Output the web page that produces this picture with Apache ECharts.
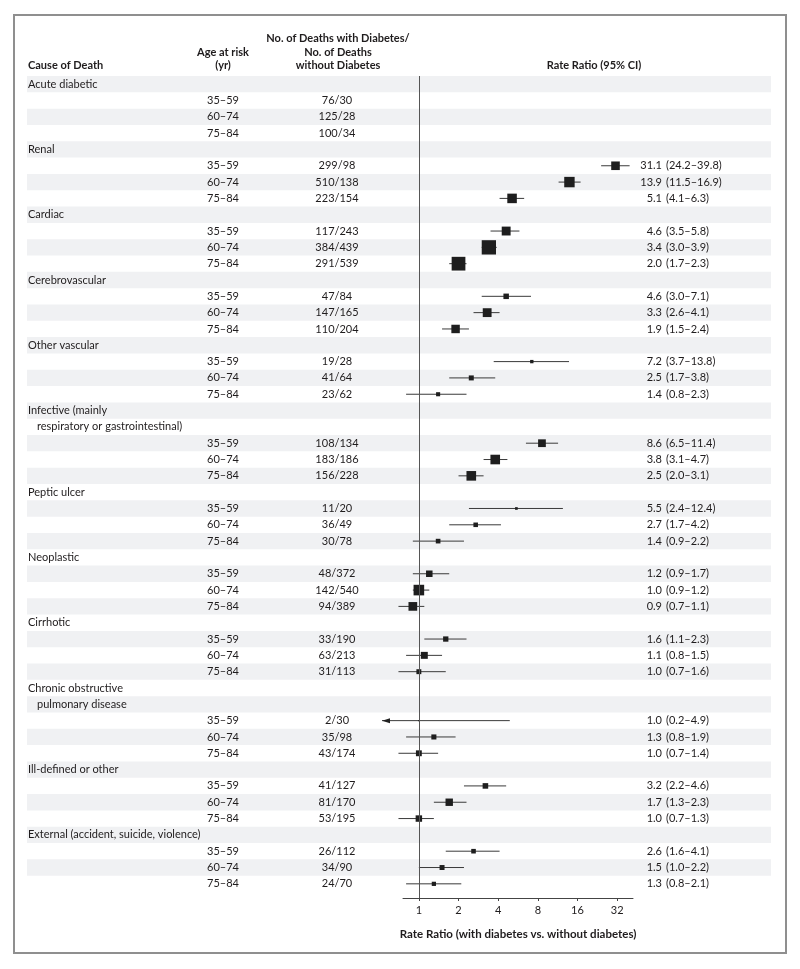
<!DOCTYPE html>
<html>
<head>
<meta charset="utf-8">
<title>Rate ratio by cause of death</title>
<script src="https://cdn.jsdelivr.net/npm/echarts@6/dist/echarts.min.js"></script>
<style>
  html, body { margin: 0; padding: 0; background: #fff; }
  #chart { width: 800px; height: 969px; }
</style>
</head>
<body>
<div id="chart"></div>
<script>
// cause names (second line is indented)
var causes = [
  ['Acute diabetic'],
  ['Renal'],
  ['Cardiac'],
  ['Cerebrovascular'],
  ['Other vascular'],
  ['Infective (mainly', 'respiratory or gastrointestinal)'],
  ['Peptic ulcer'],
  ['Neoplastic'],
  ['Cirrhotic'],
  ['Chronic obstructive', 'pulmonary disease'],
  ['Ill-defined or other'],
  ['External (accident, suicide, violence)']
];
var ageBands = ['35–59', '60–74', '75–84'];
var deathsWith = [[76, 125, 100], [299, 510, 223], [117, 384, 291], [47, 147, 110], [19, 41, 23], [108, 183, 156],
  [11, 36, 30], [48, 142, 94], [33, 63, 31], [2, 35, 43], [41, 81, 53], [26, 34, 24]];
var deathsWithout = [[30, 28, 34], [98, 138, 154], [243, 439, 539], [84, 165, 204], [28, 64, 62], [134, 186, 228],
  [20, 49, 78], [372, 540, 389], [190, 213, 113], [30, 98, 174], [127, 170, 195], [112, 90, 70]];
var rateRatio = [[null, null, null], [31.1, 13.9, 5.1], [4.6, 3.4, 2.0], [4.6, 3.3, 1.9], [7.2, 2.5, 1.4], [8.6, 3.8, 2.5],
  [5.5, 2.7, 1.4], [1.2, 1.0, 0.9], [1.6, 1.1, 1.0], [1.0, 1.3, 1.0], [3.2, 1.7, 1.0], [2.6, 1.5, 1.3]];
var ciLow = [[null, null, null], [24.2, 11.5, 4.1], [3.5, 3.0, 1.7], [3.0, 2.6, 1.5], [3.7, 1.7, 0.8], [6.5, 3.1, 2.0],
  [2.4, 1.7, 0.9], [0.9, 0.9, 0.7], [1.1, 0.8, 0.7], [0.2, 0.8, 0.7], [2.2, 1.3, 0.7], [1.6, 1.0, 0.8]];
var ciHigh = [[null, null, null], [39.8, 16.9, 6.3], [5.8, 3.9, 2.3], [7.1, 4.1, 2.4], [13.8, 3.8, 2.3], [11.4, 4.7, 3.1],
  [12.4, 4.2, 2.2], [1.7, 1.2, 1.1], [2.3, 1.5, 1.6], [4.9, 1.9, 1.4], [4.6, 2.3, 1.3], [4.1, 2.2, 2.1]];
var axisTicks = [1, 2, 4, 8, 16, 32];

var FONT = 'Lato';
var TXT = '#1f1c1d';
var rowH = 16.32, tableTop = 76;   // note: "top" is taken by window.top

// flatten into table rows
var rows = [];
causes.forEach(function (names, g) {
  names.forEach(function (n, k) {
    rows.push({ cause: n, indent: k > 0 });
  });
  ageBands.forEach(function (age, a) {
    rows.push({ g: g, a: a });
  });
});
var nRows = rows.length;

// [row, log2 RR, log2 low, log2 high, box size]
var ciData = [];
rows.forEach(function (r, i) {
  if (r.cause !== undefined) return;
  var rr = rateRatio[r.g][r.a];
  if (rr == null) return;
  var w = deathsWith[r.g][r.a], wo = deathsWithout[r.g][r.a];
  ciData.push([i, Math.log2(rr), Math.log2(ciLow[r.g][r.a]), Math.log2(ciHigh[r.g][r.a]), Math.sqrt(w * wo / (w + wo))]);
});

function txt(x, y, s, align, bold) {
  return {
    type: 'text', x: x, y: y,
    style: { text: s, fill: TXT, font: (bold ? 'bold ' : '') + '11px ' + FONT, textAlign: align, textVerticalAlign: 'middle' }
  };
}

function renderRow(params, api) {
  var i = params.dataIndex, r = rows[i];
  var p = api.coord([27, i]);
  var y = p[1];
  var kids = [];
  if (i % 2 === 0) {
    kids.push({ type: 'rect', shape: { x: 27, y: y - rowH / 2, width: 744, height: rowH }, style: { fill: '#f0f1f3' } });
  }
  if (r.cause !== undefined) {
    kids.push(txt(r.indent ? 37 : 28, y, r.cause, 'left'));
  } else {
    kids.push(txt(223, y, ageBands[r.a], 'center'));
    kids.push(txt(337, y, deathsWith[r.g][r.a] + '/' + deathsWithout[r.g][r.a], 'center'));
    var rr = rateRatio[r.g][r.a];
    if (rr != null) {
      kids.push(txt(662, y, rr.toFixed(1), 'right'));
      kids.push(txt(666, y, '(' + ciLow[r.g][r.a].toFixed(1) + '–' + ciHigh[r.g][r.a].toFixed(1) + ')', 'left'));
    }
  }
  return { type: 'group', children: kids };
}

function renderCI(params, api) {
  var row = api.value(0);
  var c = api.coord([api.value(1), row]);
  var lo = api.coord([api.value(2), row]);
  var hi = api.coord([api.value(3), row]);
  var s = api.value(4);
  var xl = lo[0], arrow = false;
  var floorX = params.coordSys.x - 21;
  if (xl < floorX) { xl = floorX; arrow = true; }
  var kids = [
    { type: 'line', shape: { x1: xl, y1: c[1], x2: hi[0], y2: c[1] }, style: { stroke: '#3a3a3a', lineWidth: 1 } }
  ];
  if (arrow) {
    kids.push({ type: 'polygon', shape: { points: [[xl, c[1]], [xl + 8, c[1] - 2.5], [xl + 8, c[1] + 2.5]] }, style: { fill: '#222' } });
  }
  kids.push({ type: 'rect', shape: { x: c[0] - s / 2, y: c[1] - s / 2, width: s, height: s }, style: { fill: '#1e1e1e' } });
  return { type: 'group', children: kids };
}

var chart = echarts.init(document.getElementById('chart'), null, { renderer: 'canvas' });

var option = {
  backgroundColor: '#fff',
  animation: false,
  textStyle: { fontFamily: FONT },
  grid: [
    { left: 27, width: 744, top: tableTop, height: nRows * rowH },
    { left: 403, width: 230, top: tableTop, height: nRows * rowH + 6 }
  ],
  xAxis: [
    { gridIndex: 0, type: 'value', min: 27, max: 771, show: false },
    {
      gridIndex: 1, type: 'value', min: -0.4, max: 5.4, position: 'bottom',
      axisLine: { show: true, onZero: false, lineStyle: { color: '#444', width: 1 } },
      axisTick: { show: true, length: 3, customValues: axisTicks.map(function (v) { return Math.log2(v); }), lineStyle: { color: '#444' } },
      axisLabel: {
        customValues: axisTicks.map(function (v) { return Math.log2(v); }), color: TXT, fontSize: 11, fontFamily: FONT, margin: 7,
        formatter: function (v) { return String(Math.round(Math.pow(2, v))); }
      },
      splitLine: { show: false },
      name: 'Rate Ratio (with diabetes vs. without diabetes)',
      nameLocation: 'middle', nameGap: 30,
      nameTextStyle: { color: TXT, fontSize: 11.5, fontWeight: 'bold', fontFamily: FONT }
    }
  ],
  yAxis: [
    { gridIndex: 0, type: 'value', inverse: true, min: -0.5, max: nRows - 0.5, show: false },
    { gridIndex: 1, type: 'value', inverse: true, min: -0.5, max: nRows - 0.5 + 6 / rowH, show: false }
  ],
  series: [
    {
      type: 'custom', xAxisIndex: 0, yAxisIndex: 0, silent: true,
      renderItem: renderRow,
      data: rows.map(function (r, i) { return [27, i]; }),
      clip: false
    },
    {
      type: 'custom', xAxisIndex: 1, yAxisIndex: 1, silent: true,
      renderItem: renderCI,
      encode: { x: [1, 2, 3], y: 0 },
      data: ciData,
      clip: false,
      markLine: {
        silent: true, symbol: 'none', label: { show: false },
        lineStyle: { color: '#555', width: 1, type: 'solid' },
        data: [{ xAxis: 0 }]
      }
    }
  ],
  graphic: [
    { type: 'rect', shape: { x: 14, y: 15, width: 772, height: 938 }, style: { fill: 'none', stroke: '#8f8f8f', lineWidth: 2 } },
    txt(28, 65, 'Cause of Death', 'left', true),
    txt(223, 52, 'Age at risk', 'center', true),
    txt(223, 65, '(yr)', 'center', true),
    txt(338, 38, 'No. of Deaths with Diabetes/', 'center', true),
    txt(338, 52, 'No. of Deaths', 'center', true),
    txt(338, 65, 'without Diabetes', 'center', true),
    txt(594, 65, 'Rate Ratio (95% CI)', 'center', true)
  ]
};

chart.setOption(option);
</script>
</body>
</html>
